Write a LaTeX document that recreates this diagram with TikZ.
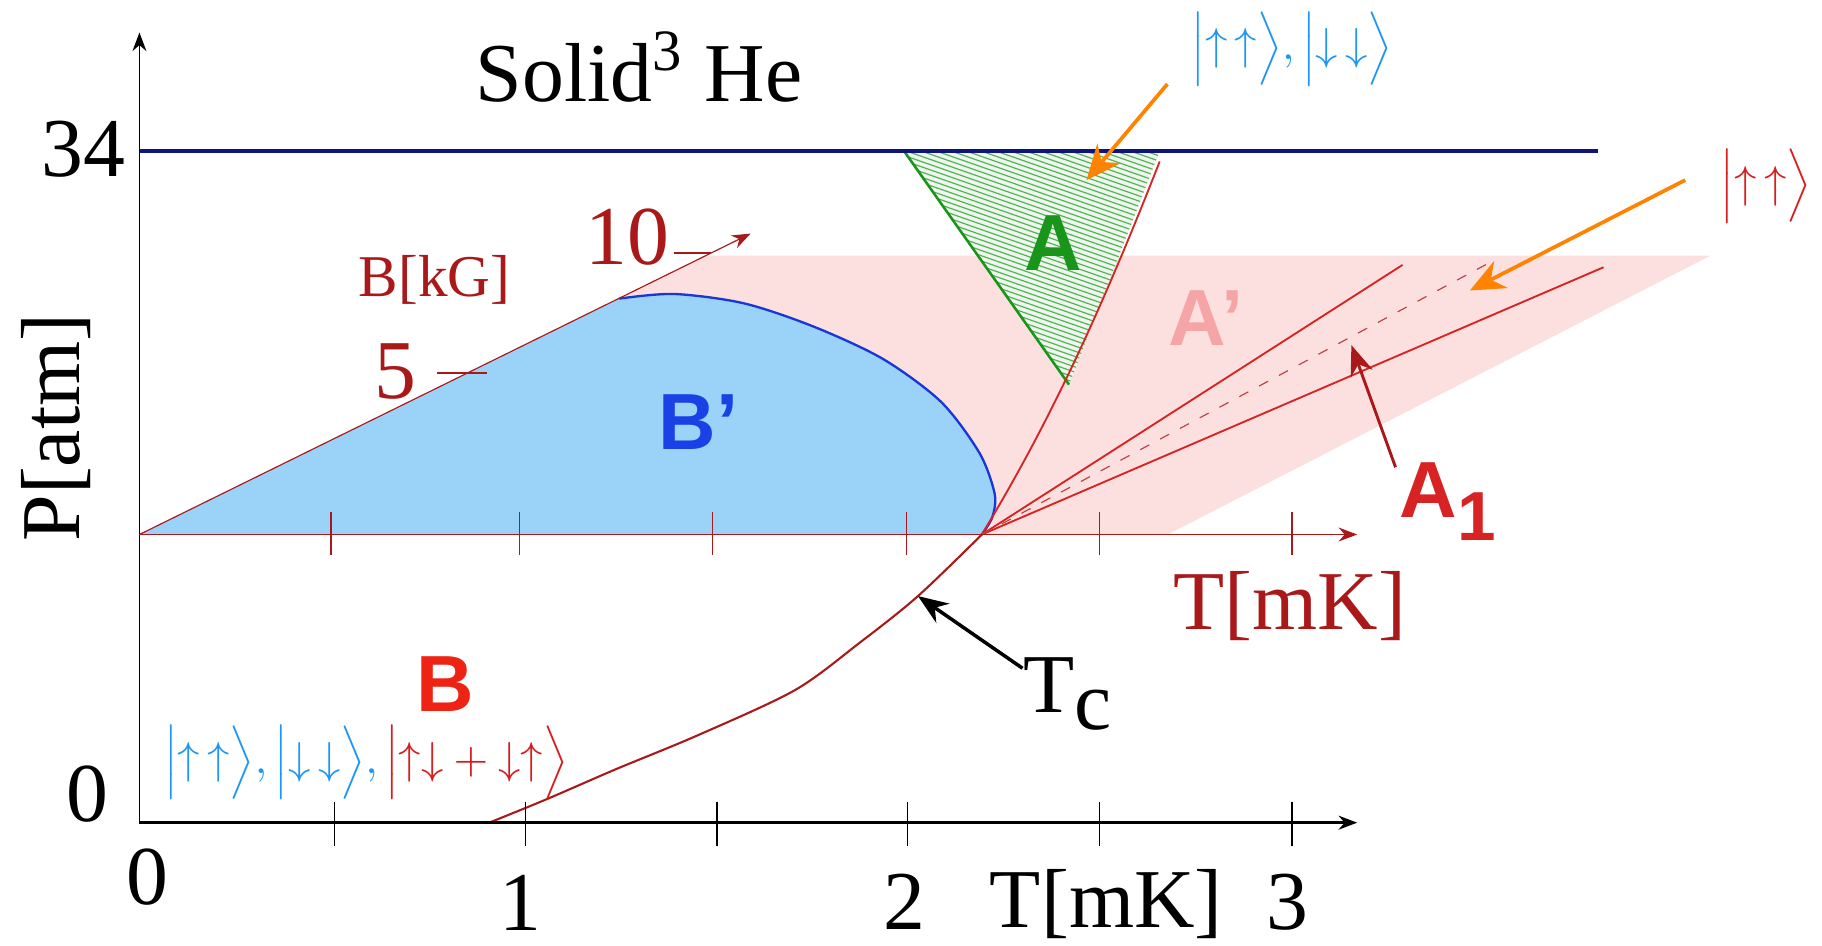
\documentclass[tikz,border=0pt]{standalone}
\usepackage{fontspec}
\setmainfont{Liberation Serif}
\setsansfont{Liberation Sans}
\usepackage{xcolor}
\usetikzlibrary{positioning, arrows.meta, calc}

\definecolor{solidnavy}{RGB}{15,20,120}
\definecolor{axisred}{RGB}{170,25,25}
\definecolor{linered}{RGB}{215,35,35}
\definecolor{apink}{RGB}{252,224,224}
\definecolor{bfill}{RGB}{155,210,248}
\definecolor{bedge}{RGB}{25,55,215}
\definecolor{bprime}{RGB}{25,65,230}
\definecolor{agreen}{RGB}{25,150,25}
\definecolor{aprime}{RGB}{245,165,165}
\definecolor{bred}{RGB}{238,35,20}
\definecolor{arrorange}{RGB}{255,130,0}
\definecolor{ketblue}{RGB}{30,150,245}
\definecolor{ketred}{RGB}{215,30,30}

\newcommand{\uu}{{\uparrow}\,{\uparrow}}
\newcommand{\dd}{{\downarrow}\,{\downarrow}}

\begin{document}
\begin{tikzpicture}[x=0.1mm, y=-0.1mm,
    axlab/.style={font=\fontsize{20.5}{22}\selectfont, inner sep=0pt},
    phase/.style={font=\sffamily\bfseries\fontsize{19.5}{22}\selectfont, inner sep=0pt},
    ketlab/.style={font=\fontsize{11}{13}\selectfont, inner sep=0pt},
    redline/.style={draw=linered, line width=0.16mm},
    axarr/.style={-{Stealth[length=1.6mm, width=1.2mm]}},
    pointer/.style={-{Stealth[length=3mm, width=2.6mm]}, draw=arrorange, line width=0.32mm}
]
\useasboundingbox (0,0) rectangle (1568,814);
% Reference points
\coordinate (orig)   at (120,708);
\coordinate (ptop)   at (120,28);
\coordinate (tend)   at (1168,708);
\coordinate (borig)  at (120,460);
\coordinate (bend)   at (1168,460);
\coordinate (bfield) at (646,201);
\coordinate (tcp)    at (845,460);
% A' region
\fill[apink] (607,220) -- (1472,220) -- (1005,460) -- (120,460) -- cycle;
% B' region
\fill[bfill] (borig) -- (533,257) -- plot[smooth] coordinates {(533,257) (580,253) (640,261) (700,281) (760,309) (810,346) (843,390) (856,425) (854,445) (845,460)} -- cycle;
\draw[bedge, line width=0.2mm] plot[smooth] coordinates {(533,257) (580,253) (640,261) (700,281) (760,309) (810,346) (843,390) (856,425) (854,445) (845,460)};
% A region (hatched)
\fill[agreen!8] (778,130) -- (998,130) -- (920,331) -- cycle;
\begin{scope}
  \clip (778,130) -- (998,130) -- (920,331) -- cycle;
  \foreach \k in {0,...,62}
    \draw[agreen!75, line width=0.1mm] (770,{50+4.5*\k}) -- ++(240,84);
\end{scope}
\draw[agreen, line width=0.22mm] (778,130) -- (920,331);
% Melting line
\draw[solidnavy, line width=0.3mm] (120,130) -- (1375,130);
% Transition lines
\draw[redline] (tcp) .. controls (890,385) and (935,300) .. (998,139);
\draw[redline] (tcp) -- (1207,228);
\draw[redline] (tcp) -- (1380,230);
\draw[linered!70!gray, dash pattern=on 2.5pt off 3pt, line width=0.1mm] (tcp) -- (1282,226);
\draw[axisred, line width=0.18mm] plot[smooth] coordinates {(421,708) (470,688) (530,662) (600,633) (684,594) (740,553) (790,513) (845,460)};
% Axes
\draw[axarr, line width=0.12mm] (orig) -- (ptop);
\draw[axarr, line width=0.22mm] (orig) -- (tend);
\foreach \x in {288,452,617,781,946,1112}
  \draw[line width=0.12mm] (\x,690) -- (\x,728);
\draw[axisred, axarr, line width=0.15mm] (borig) -- (bend);
\foreach \x in {285,447,613,780,946,1112}
  \draw[axisred, line width=0.12mm] (\x,441) -- (\x,478);
\draw[axisred, axarr, line width=0.1mm] (borig) -- (bfield);
\draw[axisred, line width=0.15mm] (376,321) -- (419,321);
\draw[axisred, line width=0.15mm] (580,218) -- (612,218);
% Axis labels
\node[axlab, anchor=base] (lab0)  at (127,778) {0};
\node[axlab, anchor=base] (lab1)  at (448,801) {1};
\node[axlab, anchor=base] (lab2)  at (778,800) {2};
\node[axlab, anchor=base] (labT)  at (952,798) {T[mK]};
\node[axlab, anchor=base] (lab3)  at (1108,800) {3};
\node[axlab, anchor=base] (labp0) at (75,707) {0};
\node[axlab, anchor=base] (labp34) at (72,152) {34};
\node[axlab, rotate=90] (labP) at (48,368) {P[atm]};
\node[axlab, anchor=base] (solid) at (550,87) {Solid\textsuperscript{3} He};
\node[axlab, anchor=base, text=axisred] (labTr) at (1110,542) {T[mK]};
\node[axlab, anchor=base, text=axisred] (lab5)  at (340,343) {5};
\node[axlab, anchor=base, text=axisred] (lab10) at (540,228) {10};
\node[anchor=base, inner sep=0pt, text=axisred, font=\fontsize{14.5}{16}\selectfont] (labB) at (374,255) {B[kG]};
% Phase labels
\node[phase, anchor=base, text=agreen] (pA)  at (906,233) {A};
\node[phase, anchor=base, text=aprime] (pAp) at (1038,297) {A’};
\node[phase, anchor=base, text=bprime] (pBp) at (601,387) {B’};
\node[phase, anchor=base, text=bred]   (pB)  at (383,612) {B};
\node[phase, anchor=base west, text=linered] (pA1) at (1204,445) {A\raisebox{-0.3em}{\fontsize{17}{17}\selectfont 1}};
\node[axlab, anchor=base west] (pTc) at (880,613) {T\raisebox{-0.2em}{c}};
% Pointers
\coordinate (tctip) at (790,513);
\coordinate (a1tip) at (1163,297);
\draw[-{Stealth[length=2.6mm, width=2mm]}, line width=0.3mm] ([yshift=-1mm]pTc.north west) -- (tctip);
\draw[-{Stealth[length=2.6mm, width=2mm]}, axisred, line width=0.25mm] ([xshift=-0.3mm, yshift=-0.5mm]pA1.north west) -- (a1tip);
% Spin states
\node[ketlab, text=ketblue] (ketA) at (1112,42) {$\Big|\uu\Big\rangle{,}\,\Big|\dd\Big\rangle$};
\node[ketlab, text=ketred] (ketA1) at (1520,160) {$\Big|\uu\Big\rangle$};
\node[ketlab] (ketB) at (315,656) {\color{ketblue}$\Big|\uu\Big\rangle{,}\,\Big|\dd\Big\rangle{,}\,$\color{ketred}$\Big|{\uparrow}{\downarrow}+{\downarrow}{\uparrow}\Big\rangle$};
\coordinate (atip)  at (935,155);
\coordinate (a1dash) at (1265,250);
\draw[pointer] ([xshift=-2mm, yshift=0.2mm]ketA.south west) -- (atip);
\draw[pointer] ([xshift=-3mm, yshift=0.5mm]ketA1.west) -- (a1dash);
\end{tikzpicture}
\end{document}
